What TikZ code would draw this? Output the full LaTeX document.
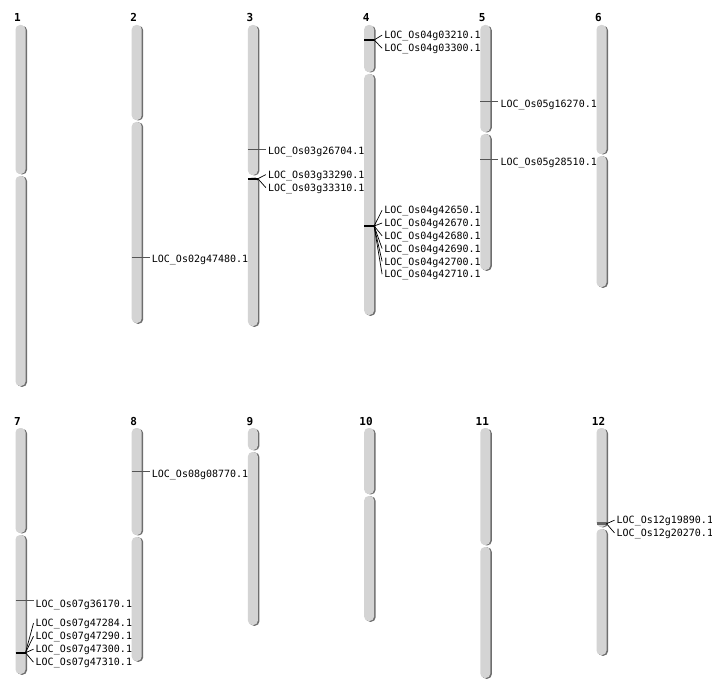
\documentclass[tikz,border=0pt]{standalone}
\usepackage{fontspec}
\newfontfamily\monof{DejaVu Sans Mono}
\definecolor{barfill}{HTML}{D4D4D4}
\definecolor{barshadow}{HTML}{6E6E6E}
\definecolor{markgrey}{HTML}{555555}
\definecolor{bandgrey}{HTML}{666666}
\tikzset{
  barstyle/.style={fill=barfill, rounded corners=4.5pt},
  shadowstyle/.style={fill=barshadow, rounded corners=4.5pt},
  chrlabel/.style={font=\monof\bfseries\fontsize{11}{12}\selectfont, inner sep=0pt, text height=8pt, text depth=0pt},
  gene/.style={font=\monof\fontsize{10}{11}\selectfont, inner sep=0pt, anchor=west, text height=7.3pt, text depth=0pt, yshift=-0.9pt},
  singleline/.style={draw=markgrey, line width=0.9pt},
  fanline/.style={draw=black, line width=0.7pt},
  clustermark/.style={draw=black, line width=2pt},
}
% #1 name, #2 left x, #3 top, #4 centromere, #5 bottom, #6 label text, #7 label y
\newcommand{\chromo}[7]{%
  \fill[shadowstyle] (#2+1.5,#3+0.8) rectangle (#2+11.5,#4-0.6);
  \fill[shadowstyle] (#2+1.5,#4+1.4) rectangle (#2+11.5,#5+0.8);
  \fill[barstyle] (#2,#3) rectangle (#2+10,#4-1);
  \fill[barstyle] (#2,#4+1) rectangle (#2+10,#5);
  \node[chrlabel] (#1) at (#2+2,#7) {#6};
}
\begin{document}
\begin{tikzpicture}[x=1pt,y=-1pt]
\useasboundingbox[fill=white] (0,0) rectangle (712,700);
% row 1
\chromo{c1}{15.5}{25}{175}{386}{1}{18}
\chromo{c2}{131.7}{25}{121}{323}{2}{18}
\chromo{c3}{247.9}{25}{176}{326}{3}{18}
\chromo{c4}{364.1}{25}{73}{315}{4}{18}
\chromo{c5}{480.3}{25}{133}{270}{5}{18}
\chromo{c6}{596.5}{25}{155}{287}{6}{18}
% row 2
\chromo{c7}{15.5}{428}{534}{674}{7}{421}
\chromo{c8}{131.7}{428}{536}{661}{8}{421}
\chromo{c9}{247.9}{428}{451}{625}{9}{421}
\chromo{c10}{364.1}{428}{495}{621}{10}{421}
\chromo{c11}{480.3}{428}{546}{678}{11}{421}
\chromo{c12}{596.5}{428}{528}{655}{12}{421}

% ---- single genes ----
% chr2
\coordinate (m2a) at (131.7,257);
\node[gene] (g2a) at (151.7,258) {LOC\_Os02g47480.1};
\draw[singleline] (m2a) -- ([xshift=-2pt]g2a.west |- m2a);
% chr3
\coordinate (m3a) at (247.9,149);
\node[gene] (g3a) at (267.9,150) {LOC\_Os03g26704.1};
\draw[singleline] (m3a) -- ([xshift=-2pt]g3a.west |- m3a);
% chr5
\coordinate (m5a) at (480.3,101.7);
\node[gene] (g5a) at (500.3,103) {LOC\_Os05g16270.1};
\draw[singleline] (m5a) -- ([xshift=-2pt]g5a.west |- m5a);
\coordinate (m5b) at (480.3,159.3);
\node[gene] (g5b) at (500.3,161) {LOC\_Os05g28510.1};
\draw[singleline] (m5b) -- ([xshift=-2pt]g5b.west |- m5b);
% chr7
\coordinate (m7a) at (15.5,600.7);
\node[gene] (g7a) at (35.5,602.5) {LOC\_Os07g36170.1};
\draw[singleline] (m7a) -- ([xshift=-2pt]g7a.west |- m7a);
% chr8
\coordinate (m8a) at (131.7,471.7);
\node[gene] (g8a) at (151.7,473) {LOC\_Os08g08770.1};
\draw[singleline] (m8a) -- ([xshift=-2pt]g8a.west |- m8a);

% ---- clusters ----
% chr3
\coordinate (k3l) at (247.9,178.7);
\coordinate (k3r) at (257.9,178.7);
\draw[clustermark] (k3l) -- (k3r);
\node[gene] (g3b) at (267.9,173.7) {LOC\_Os03g33290.1};
\node[gene] (g3c) at (267.9,186.8) {LOC\_Os03g33310.1};
\foreach \g in {g3b,g3c} \draw[fanline] (k3r) -- ([xshift=-2pt]\g.west);
% chr4 top
\coordinate (k4l) at (364.1,40);
\coordinate (k4r) at (374.1,40);
\draw[clustermark] (k4l) -- (k4r);
\node[gene] (g4a) at (384.1,34.2) {LOC\_Os04g03210.1};
\node[gene] (g4b) at (384.1,47.3) {LOC\_Os04g03300.1};
\foreach \g in {g4a,g4b} \draw[fanline] (k4r) -- ([xshift=-2pt]\g.west);
% chr4 lower
\coordinate (k4m) at (364.1,226);
\coordinate (k4n) at (374.1,226);
\draw[clustermark] (k4m) -- (k4n);
\node[gene] (g4c) at (384.1,209.3) {LOC\_Os04g42650.1};
\node[gene] (g4d) at (384.1,222.1) {LOC\_Os04g42670.1};
\node[gene] (g4e) at (384.1,234.9) {LOC\_Os04g42680.1};
\node[gene] (g4f) at (384.1,247.7) {LOC\_Os04g42690.1};
\node[gene] (g4g) at (384.1,260.5) {LOC\_Os04g42700.1};
\node[gene] (g4h) at (384.1,273.3) {LOC\_Os04g42710.1};
\foreach \g in {g4c,g4d,g4e,g4f,g4g,g4h} \draw[fanline] (k4n) -- ([xshift=-2pt]\g.west);
% chr7 cluster
\coordinate (k7l) at (15.5,652.7);
\coordinate (k7r) at (25.5,652.7);
\draw[clustermark] (k7l) -- (k7r);
\node[gene] (g7b) at (35.5,622.3) {LOC\_Os07g47284.1};
\node[gene] (g7c) at (35.5,635.3) {LOC\_Os07g47290.1};
\node[gene] (g7d) at (35.5,648.3) {LOC\_Os07g47300.1};
\node[gene] (g7e) at (35.5,661.3) {LOC\_Os07g47310.1};
\foreach \g in {g7b,g7c,g7d,g7e} \draw[fanline] (k7r) -- ([xshift=-2pt]\g.west);
% chr12 cluster
\coordinate (k12l) at (596.5,523.7);
\coordinate (k12r) at (606.5,523.7);
\draw[draw=bandgrey, line width=3.3pt] (k12l) -- (k12r);
\node[gene] (g12a) at (616.5,519.3) {LOC\_Os12g19890.1};
\node[gene] (g12b) at (616.5,532) {LOC\_Os12g20270.1};
\foreach \g in {g12a,g12b} \draw[fanline] (k12r) -- ([xshift=-2pt]\g.west);
\end{tikzpicture}
\end{document}
